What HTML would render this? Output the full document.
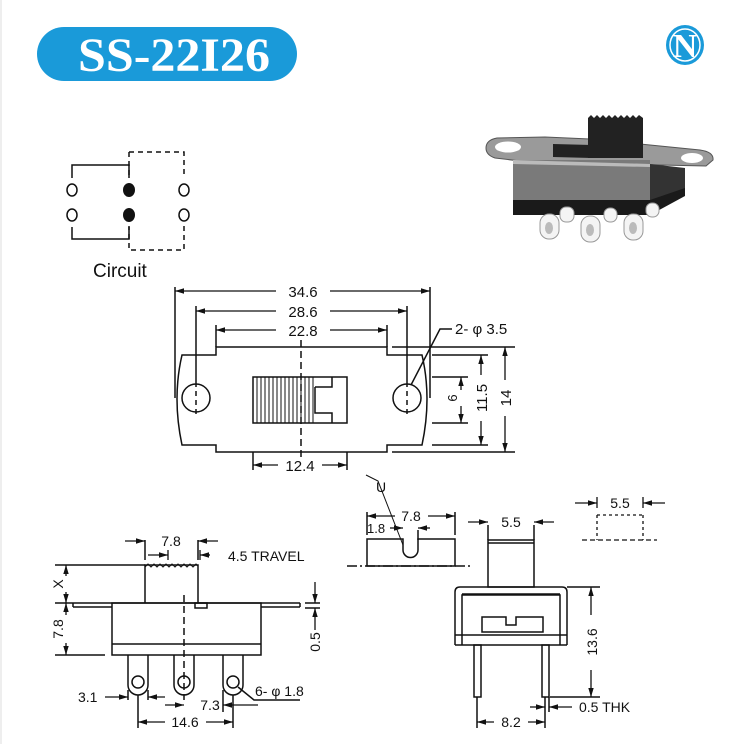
<!DOCTYPE html>
<html><head><meta charset="utf-8"><style>
html,body{margin:0;padding:0;background:#fff;}
svg{display:block;}
text{font-family:"Liberation Sans",sans-serif;fill:#111;}
</style></head><body>
<svg width="735" height="744" viewBox="0 0 735 744" xmlns="http://www.w3.org/2000/svg">
<defs>
<marker id="a" viewBox="0 0 10 10" refX="10" refY="5" markerWidth="7" markerHeight="7" orient="auto-start-reverse"><path d="M0,2 L10,5 L0,8 z" fill="#111"/></marker>
</defs>
<rect x="0" y="0" width="735" height="744" fill="#fff"/>
<line x1="1" y1="0" x2="1" y2="744" stroke="#ddd"/>
<!-- header -->
<rect x="37" y="27" width="260" height="54" rx="27" fill="#1a9ad9"/>
<text x="78" y="71" textLength="192" lengthAdjust="spacingAndGlyphs" style="font-family:'Liberation Serif',serif;font-weight:bold;font-size:48px;fill:#fff">SS-22I26</text>
<ellipse cx="685" cy="45" rx="19" ry="20" fill="#1a9ad9"/>
<ellipse cx="685" cy="45" rx="15" ry="16" fill="none" stroke="#fff" stroke-width="1.5"/>
<text x="685" y="57" text-anchor="middle" style="font-family:'Liberation Serif',serif;font-weight:bold;font-size:34px;fill:#fff">N</text>

<!-- circuit -->
<g stroke="#111" stroke-width="1.5" fill="none">
<path d="M129,152 H184 V176 M184,226 V250 H129 V226 M129,152 V176" stroke-dasharray="5,4"/>
<path d="M72,178 V165 H129 V178"/>
<path d="M72,227 V239 H129 V227"/>
</g>
<g stroke="#111" stroke-width="1.5" fill="#fff">
<ellipse cx="72" cy="190" rx="5" ry="6"/><ellipse cx="184" cy="190" rx="5" ry="6"/>
<ellipse cx="72" cy="215" rx="5" ry="6"/><ellipse cx="184" cy="215" rx="5" ry="6"/>
</g>
<ellipse cx="129" cy="190" rx="6" ry="7" fill="#111"/><ellipse cx="129" cy="215" rx="6" ry="7" fill="#111"/>
<text x="93" y="277" style="font-size:19px">Circuit</text>

<!-- photo -->
<g>
<path d="M486,148 Q486,140 497,138 L545,137 L590,139 L640,144 L700,150 Q714,152 713,160 L706,166 L660,165 L520,161 L495,158 Q486,155 486,148Z" fill="#9a9a9a" stroke="#555"/>
<ellipse cx="508" cy="147" rx="13" ry="5.5" fill="#fff"/>
<ellipse cx="692" cy="158" rx="11" ry="5" fill="#fff"/>
<path d="M553,144 L592,145 L592,158 L553,157Z" fill="#222"/>
<path d="M650,164 L685,168 L685,192 L650,205Z" fill="#333"/>
<rect x="513" y="160" width="137" height="43" fill="#7a7a7a"/>
<path d="M513,160 L650,164 L650,167 L513,164Z" fill="#bbb"/>
<path d="M513,200 L650,200 L685,188 L685,196 L650,215 L513,215Z" fill="#1a1a1a"/>
<path d="M588,118 L643,118 L643,158 L588,158Z" fill="#222"/>
<path d="M588,118 l3,-3 l3,3 l3,-3 l3,3 l3,-3 l3,3 l3,-3 l3,3 l3,-3 l3,3 l3,-3 l3,3 l3,-3 l3,3 l3,-3 l3,3 l3,-3 l4,3Z" fill="#222"/>
<g fill="#f4f4f4" stroke="#999">
<rect x="560" y="207" width="14" height="15" rx="6"/><rect x="604" y="208" width="13" height="14" rx="6"/><rect x="646" y="203" width="13" height="14" rx="6"/>
<rect x="540" y="214" width="19" height="25" rx="9"/><rect x="581" y="216" width="19" height="26" rx="9"/>
<rect x="624" y="214" width="19" height="26" rx="9"/>
</g>
<g fill="#bbb"><ellipse cx="549" cy="228" rx="4" ry="6"/><ellipse cx="590" cy="230" rx="4" ry="6"/><ellipse cx="633" cy="228" rx="4" ry="6"/></g>
</g>

<!-- top view -->
<g stroke="#111" stroke-width="1.5" fill="none">
<path d="M216,347 H387 V355 H422 Q432,398 422,445 H387 V452 H216 V445 H182 Q172,398 182,355 H216 Z"/>
<circle cx="196" cy="398" r="14"/><circle cx="407" cy="398" r="14"/>
<path d="M196,382 V414 M407,382 V414" stroke-dasharray="5,4"/>
<rect x="253" y="377" width="94" height="46"/>
<path d="M257,377V423 M261,377V423 M265,377V423 M269,377V423 M273,377V423 M277,377V423 M281,377V423 M285,377V423 M289,377V423 M293,377V423 M297,377V423 M301,377V423 M305,377V423 M309,377V423 M313,377V423" stroke-width="1"/>
<path d="M315,387 H332 V377 M315,387 V413 H332 V423"/>
<path d="M301,340 V470" stroke-dasharray="7,4"/>
<path d="M175,287 V398 M430,287 V398 M196,306 V382 M407,306 V382 M216,325 V347 M387,325 V347 M253,452 V470 M347,452 V470"/>
<path d="M392,347 H515 M432,355 H488 M432,377 H468 M432,423 H468 M432,445 H488 M392,452 H515"/>
<path d="M411,385 L440,329 H452"/>
</g>
<g stroke="#111" stroke-width="1.3">
<line x1="175" y1="291" x2="276" y2="291" marker-start="url(#a)"/><line x1="330" y1="291" x2="430" y2="291" marker-end="url(#a)"/>
<line x1="196" y1="311" x2="276" y2="311" marker-start="url(#a)"/><line x1="330" y1="311" x2="407" y2="311" marker-end="url(#a)"/>
<line x1="216" y1="330" x2="276" y2="330" marker-start="url(#a)"/><line x1="330" y1="330" x2="387" y2="330" marker-end="url(#a)"/>
<line x1="253" y1="465" x2="278" y2="465" marker-start="url(#a)"/><line x1="322" y1="465" x2="347" y2="465" marker-end="url(#a)"/>
<line x1="505" y1="347" x2="505" y2="380" marker-start="url(#a)"/><line x1="505" y1="416" x2="505" y2="452" marker-end="url(#a)"/>
<line x1="481" y1="355" x2="481" y2="375" marker-start="url(#a)"/><line x1="481" y1="421" x2="481" y2="445" marker-end="url(#a)"/>
<line x1="461" y1="377" x2="461" y2="390" marker-start="url(#a)"/><line x1="461" y1="406" x2="461" y2="423" marker-end="url(#a)"/>
</g>
<g style="font-size:15px">
<rect x="278" y="283" width="50" height="16" fill="#fff"/>
<text x="303" y="297" text-anchor="middle">34.6</text>
<text x="303" y="317" text-anchor="middle">28.6</text>
<text x="303" y="336" text-anchor="middle">22.8</text>
<rect x="281" y="457" width="40" height="16" fill="#fff"/>
<text x="300" y="471" text-anchor="middle">12.4</text>
<text x="455" y="334">2- φ 3.5</text>
<text transform="translate(511,398) rotate(-90)" text-anchor="middle">14</text>
<text transform="translate(487,398) rotate(-90)" text-anchor="middle">11.5</text>
<text transform="translate(457,398) rotate(-90)" text-anchor="middle" style="font-size:13px">6</text>
</g>

<!-- side view -->
<g stroke="#111" stroke-width="1.5" fill="none">
<path d="M73,603 H300 M73,607 H112 M261,607 H300 M73,603 V607 M300,603 V607"/>
<rect x="112" y="603" width="149" height="52"/>
<path d="M112,644 H261"/>
<path d="M145,603 V565 H198 V603"/>
<path d="M145,567 l3,-3 l3,3 l3,-3 l3,3 l3,-3 l3,3 l3,-3 l3,3 l3,-3 l3,3 l3,-3 l3,3 l3,-3 l3,3 l3,-3 l3,3 l3,-3 l2,2" stroke-width="1"/>
<rect x="195" y="603" width="12" height="5"/>
<path d="M184,595 V700" stroke-dasharray="7,4"/>
<path d="M128,655 V685 a10,10 0 0 0 20,0 V655"/>
<path d="M174,655 V685 a10,10 0 0 0 20,0 V655"/>
<path d="M223,655 V685 a10,10 0 0 0 20,0 V655"/>
<circle cx="138" cy="682" r="6"/><circle cx="184" cy="682" r="6"/><circle cx="233" cy="682" r="6"/>
<path d="M55,565 H145 M55,603 H73 M55,655 H105"/>
<path d="M145,540 V560 M198,540 V560 M138,695 V728 M233,695 V728 M128,690 V700 M148,690 V700 M223,690 V712"/>
<path d="M305,603 H320 M305,608 H320 M238,687 L254,700 H300"/>
</g>
<g stroke="#111" stroke-width="1.3">
<line x1="66" y1="576" x2="66" y2="565" marker-end="url(#a)"/><line x1="66" y1="592" x2="66" y2="603" marker-end="url(#a)"/>
<line x1="66" y1="615" x2="66" y2="603" marker-end="url(#a)"/><line x1="66" y1="643" x2="66" y2="655" marker-end="url(#a)"/>
<line x1="125" y1="541" x2="145" y2="541" marker-end="url(#a)"/><line x1="218" y1="541" x2="198" y2="541" marker-end="url(#a)"/>
<line x1="148" y1="555" x2="168" y2="555" marker-end="url(#a)"/><line x1="168" y1="550" x2="168" y2="560"/>
<line x1="210" y1="555" x2="200" y2="555" marker-end="url(#a)"/><line x1="200" y1="550" x2="200" y2="560"/>
<line x1="315" y1="582" x2="315" y2="603" marker-end="url(#a)"/><line x1="315" y1="630" x2="315" y2="608" marker-end="url(#a)"/>
<line x1="105" y1="697" x2="128" y2="697" marker-end="url(#a)"/><line x1="165" y1="697" x2="148" y2="697" marker-end="url(#a)"/>
<line x1="165" y1="705" x2="184" y2="705" marker-end="url(#a)"/><line x1="258" y1="705" x2="223" y2="705" marker-end="url(#a)"/>
<line x1="165" y1="722" x2="138" y2="722" marker-end="url(#a)"/><line x1="206" y1="722" x2="233" y2="722" marker-end="url(#a)"/>
</g>
<g style="font-size:14px">
<text x="171" y="546" text-anchor="middle">7.8</text>
<text x="228" y="561">4.5  TRAVEL</text>
<text transform="translate(63,584) rotate(-90)" text-anchor="middle">X</text>
<text transform="translate(63,629) rotate(-90)" text-anchor="middle">7.8</text>
<text transform="translate(320,642) rotate(-90)" text-anchor="middle">0.5</text>
<text x="78" y="702">3.1</text>
<text x="210" y="710" text-anchor="middle">7.3</text>
<text x="185" y="727" text-anchor="middle">14.6</text>
<text x="255" y="696">6- φ 1.8</text>
</g>

<!-- U section -->
<g stroke="#111" stroke-width="1.5" fill="none">
<path d="M367,539 H403 V550 a7,7 0 0 0 15,0 V539 H455 V566 H367 Z"/>
<path d="M347,566 H470" stroke-dasharray="10,3,2,3"/>
<path d="M367,512 V535 M455,512 V535 M418,530 V540"/>
<path d="M366,475 L378,481 L403,545" stroke-width="1"/>
</g>
<g stroke="#111" stroke-width="1.3">
<line x1="395" y1="516" x2="367" y2="516" marker-end="url(#a)"/><line x1="428" y1="516" x2="455" y2="516" marker-end="url(#a)"/>
<line x1="390" y1="528" x2="403" y2="528" marker-end="url(#a)"/><line x1="430" y1="528" x2="418" y2="528" marker-end="url(#a)"/>
</g>
<g style="font-size:14px">
<text x="376" y="492">U</text>
<text x="411" y="521" text-anchor="middle">7.8</text>
<text x="367" y="533" style="font-size:13px">1.8</text>
</g>

<!-- front view -->
<g stroke="#111" stroke-width="1.5" fill="none">
<rect x="488" y="540" width="46" height="47"/>
<path d="M488,543 H534"/>
<path d="M455,645 V592 Q455,587 460,587 H562 Q567,587 567,592 V645"/>
<path d="M462,645 V595 H560 V645 M462,594 H560 M455,635 H567 M455,645 H567"/>
<path d="M482,617 H506 V625 H516 V617 H543 V632 H482 Z"/>
<rect x="474" y="645" width="7" height="52"/><rect x="542" y="645" width="7" height="52"/>
<path d="M488,525 V540 M534,525 V540 M567,587 H600 M550,697 H600 M477,697 V728 M545,697 V728 M549,697 V712"/>
</g>
<g stroke="#111" stroke-width="1.3">
<line x1="468" y1="522" x2="488" y2="522" marker-end="url(#a)"/><line x1="554" y1="522" x2="534" y2="522" marker-end="url(#a)"/>
<line x1="591" y1="615" x2="591" y2="587" marker-end="url(#a)"/><line x1="591" y1="670" x2="591" y2="697" marker-end="url(#a)"/>
<line x1="530" y1="707" x2="545" y2="707" marker-end="url(#a)"/><line x1="572" y1="707" x2="549" y2="707" marker-end="url(#a)"/>
<line x1="494" y1="722" x2="477" y2="722" marker-end="url(#a)"/><line x1="528" y1="722" x2="545" y2="722" marker-end="url(#a)"/>
</g>
<g style="font-size:14px">
<text x="511" y="527" text-anchor="middle">5.5</text>
<text transform="translate(597,642) rotate(-90)" text-anchor="middle">13.6</text>
<text x="579" y="712">0.5  THK</text>
<text x="511" y="727" text-anchor="middle">8.2</text>
</g>

<!-- dotted box -->
<g stroke="#111" stroke-width="1.3" fill="none">
<path d="M597,515 H643 M597,515 V540 M643,515 V540" stroke-dasharray="3,3"/>
<path d="M582,540 H657" stroke-dasharray="5,3"/>
<path d="M597,497 V508 M643,497 V508"/>
<line x1="575" y1="503" x2="597" y2="503" marker-end="url(#a)"/><line x1="665" y1="503" x2="643" y2="503" marker-end="url(#a)"/>
</g>
<text x="620" y="508" text-anchor="middle" style="font-size:14px">5.5</text>
</svg>
</body></html>
